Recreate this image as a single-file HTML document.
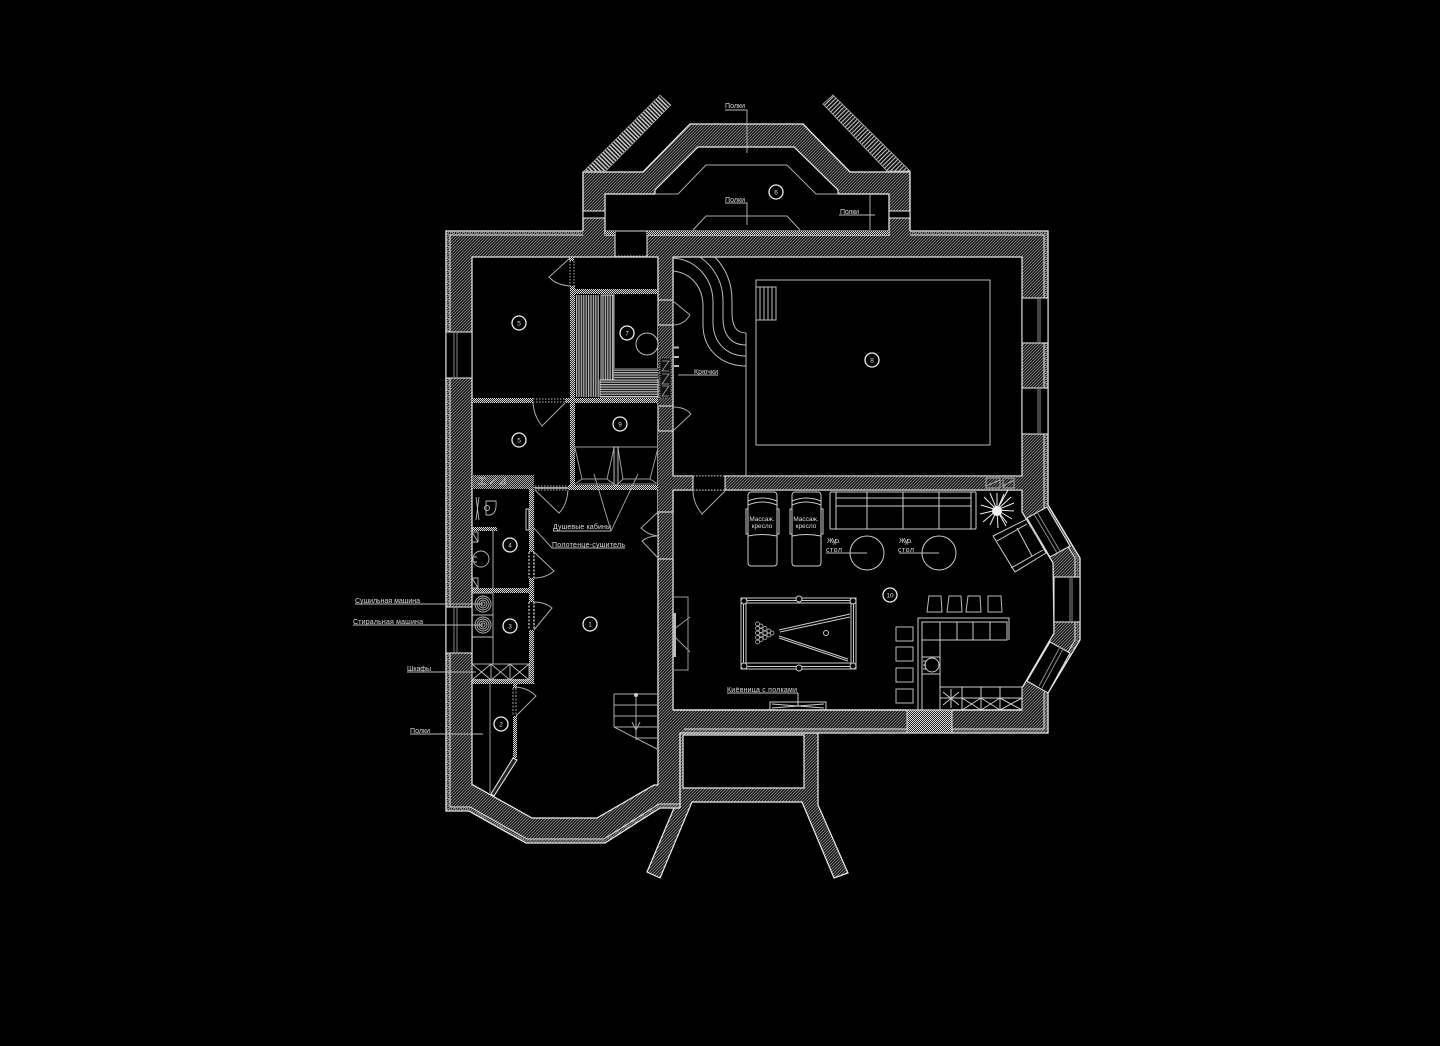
<!DOCTYPE html>
<html lang="ru"><head><meta charset="utf-8"><title>План этажа</title>
<style>html,body{margin:0;background:#000}svg{display:block}text{font-family:"Liberation Sans","DejaVu Sans",sans-serif;font-size:7px;fill:#ddd}.n{font-size:6.5px;text-anchor:middle}</style></head><body>
<svg width="1440" height="1046" viewBox="0 0 1440 1046" xmlns="http://www.w3.org/2000/svg">
<defs>
<pattern id="h" width="3" height="3" patternUnits="userSpaceOnUse"><rect width="3" height="3" fill="#0c0c0c"/><path d="M-1 1L1 -1M0 3L3 0M2 4L4 2" stroke="#8c8c8c" stroke-width=".85"/></pattern>
<pattern id="d" width="2" height="2" patternUnits="userSpaceOnUse"><rect width="2" height="2" fill="#222"/><rect width="1" height="1" fill="#ddd"/><rect x="1" y="1" width="1" height="1" fill="#ddd"/></pattern>
<pattern id="v" width="2.4" height="4" patternUnits="userSpaceOnUse"><rect width="2.4" height="4" fill="#111"/><rect width="1.2" height="4" fill="#bbb"/></pattern>
<pattern id="g" width="4" height="2.4" patternUnits="userSpaceOnUse"><rect width="4" height="2.4" fill="#111"/><rect width="4" height="1.2" fill="#bbb"/></pattern>
<pattern id="sl" width="3" height="3" patternUnits="userSpaceOnUse" patternTransform="rotate(-45)"><rect width="3" height="3" fill="#111"/><rect width="1.5" height="3" fill="#ccc"/></pattern>
<pattern id="sl2" width="3" height="3" patternUnits="userSpaceOnUse" patternTransform="rotate(-45)"><rect width="3" height="3" fill="#111"/><rect height="1" width="3" fill="#ccc"/></pattern>
</defs>
<rect width="1440" height="1046" fill="#000"/>

<!-- Hatched building mass -->
<polygon fill="url(#h)" points="446,231 583,231 583,172 643,172 690,124 803,124 850,172 910,172 910,231 1048,231 1048,505 1080,558 1080,640 1048,693 1048,733 818,733 818,805 848,873 834,878 802,802 692,802 660,878 647,872 674,808 660,808 605,843 526,843 469,811 446,811"/>

<!-- Outer lines -->
<g fill="none" stroke="#eee" stroke-width="1.3">
<polyline points="583,231 583,172 643,172 690,124 803,124 850,172 910,172 910,231"/>
<polyline points="583,231 446,231 446,811 469,811 526,843 605,843 660,808 680,808"/>
<polyline points="910,231 1048,231 1048,505 1080,558 1080,640 1048,693 1048,733 680,733 680,808"/>
<polyline stroke-width="1.2" points="674,808 647,872 660,878 692,802 802,802 834,878 848,873 818,805 818,733"/>
</g>
<g fill="none" stroke="#eee" stroke-width="1">
<polyline points="583,235 450,235 450,807 470,807 527,839 604,839 659,804 680,804"/>
<polyline points="910,235 1044,235 1044,507 1075,558 1075,640 1044,693 1044,729 684,729"/>
</g>
<g fill="none" stroke="#999" stroke-width="1.4" stroke-dasharray="1 1">
<polyline points="583,233 448,233 448,809 469.500,809 526.500,841 604.500,841 659.500,806 678,806"/>
<polyline points="910,233 1046,233 1046,506 1077.500,558 1077.500,640 1046,693 1046,731 682,731"/>
</g>

<!-- Porch interior -->
<rect x="683" y="735" width="121" height="53" fill="#000" stroke="#eee" stroke-width="1.2"/>

<!-- Rooms -->
<g fill="#000" stroke="#eee" stroke-width="1.2">
<polygon points="605,194 655,194 655,190 698,147 794,147 838,190 838,194 889,194 889,235 605,235"/>
<rect x="472" y="257" width="186" height="231"/>
<rect x="673" y="257" width="349" height="219"/>
<rect x="472" y="488" width="62" height="195"/>
<polygon points="534,488 658,488 658,785 654,785 597,818 532,818 473,785 472,785 472,683 534,683"/>
<polygon points="673,490 1022,490 1022,512 1053,563 1054,633 1022,688 1022,710 673,710"/>
<rect x="615" y="231" width="32" height="25" stroke="none"/>
</g>
<path d="M472 488H534M534 488V683M472 683H534" stroke="#000" stroke-width="1.4" fill="none"/>
<path d="M615 231V256M647 231V256" stroke="#eee" fill="none"/>
<path d="M615 231H647M615 256H647" stroke="#bbb" stroke-dasharray="1.500 1.500" fill="none"/>
<path d="M605 231H889" stroke="#ddd" stroke-width="1"/>
<rect x="605" y="231" width="10" height="4" fill="url(#d)"/><rect x="647" y="231" width="242" height="4" fill="url(#d)"/>

<!-- Room 6 shelves -->
<g fill="none" stroke="#aaa" stroke-width="1">
<polyline points="655,194 678,194 706,165 787,165 816,194 838,194"/>
<polyline points="693,230 706,216 787,216 800,230"/>
<line x1="870" y1="194" x2="870" y2="230"/>
</g>
<!-- Side windows room 6 -->
<g fill="#000" stroke="#eee"><rect x="583" y="211" width="22" height="7"/><rect x="889" y="211" width="21" height="7"/></g>
<!-- Angled shutters top -->
<polygon points="584,171 660,95 671,105 606,171" fill="url(#sl)" stroke="#aaa" stroke-width=".6"/>
<polygon points="823,104 833,95 910,171 887,171" fill="url(#sl2)" stroke="#bbb" stroke-width=".8"/>

<!-- Interior hatched wall 658-672 -->
<rect x="658" y="257" width="15" height="43" fill="url(#h)"/>
<rect x="658" y="325" width="15" height="81" fill="url(#h)"/>
<rect x="658" y="431" width="15" height="59" fill="url(#h)"/>
<rect x="658" y="490" width="15" height="22" fill="url(#h)"/>
<rect x="658" y="559" width="15" height="226" fill="url(#h)"/>
<rect x="658" y="476" width="35" height="14" fill="url(#h)"/>
<rect x="725" y="476" width="260" height="14" fill="url(#h)"/>
<rect x="985" y="476" width="37" height="14" fill="url(#h)"/>
<path d="M658 257V300H673V257M658 559V785M673 559V710M658 325H673V406H658M658 431H673V476H693V490H673V512H658M658 559H673M725 490V476M693 476H725M693 490H725" fill="none" stroke="#eee" stroke-width="1.1"/>
<path d="M725 476H1022M725 490H1022" stroke="#eee" stroke-width="1.1" fill="none"/>
<path d="M658 300V325M673 300V325M658 406V431M673 406V431M658 512V559M673 512V559" stroke="#bbb" stroke-dasharray="1.500 1.500" fill="none"/>
<rect x="693.500" y="475.500" width="31" height="15" fill="#000"/>
<path d="M693 476V490M725 476V490" stroke="#eee" fill="none"/>
<path d="M693 476H725M693 490H725" stroke="#bbb" stroke-dasharray="1.500 1.500" fill="none"/>

<!-- Partitions -->
<rect x="570" y="286" width="5" height="204" fill="url(#d)"/>
<rect x="570" y="289" width="88" height="5" fill="url(#d)"/>
<rect x="472" y="398" width="61" height="5" fill="url(#d)"/>
<rect x="565" y="398" width="93" height="5" fill="url(#d)"/>
<rect x="568" y="485" width="90" height="5" fill="url(#d)"/>
<rect x="569" y="257" width="5" height="4" fill="url(#d)"/>
<path d="M570 261V286M574 261V286M533 399H565M533 402H565M535 486H568M535 490H568" stroke="#bbb" stroke-dasharray="1.500 1.500" fill="none"/>
<rect x="472" y="475" width="62" height="14" fill="url(#d)" opacity=".8"/>
<rect x="529" y="489" width="5" height="63" fill="url(#d)"/>
<rect x="529" y="578" width="5" height="24" fill="url(#d)"/>
<rect x="529" y="630" width="5" height="53" fill="url(#d)"/>
<rect x="472" y="588" width="58" height="5" fill="url(#d)"/>
<rect x="472" y="679" width="62" height="5" fill="url(#d)"/>
<path d="M529 552V578M534 552V578M529 602V630M534 602V630" stroke="#aaa" stroke-width="1.500" stroke-dasharray="2 1.500" fill="none"/>
<rect x="472" y="527" width="25" height="4" fill="url(#d)"/>
<rect x="513" y="716" width="4" height="42" fill="url(#d)"/>
<rect x="513" y="684" width="4" height="4" fill="url(#d)"/>
<path d="M513 688V716M516 688V716" stroke="#aaa" stroke-dasharray="2 1.500" fill="none"/>
<polygon points="513,758 517,760 494,796 491,794" fill="#222" stroke="#eee"/>
<line x1="490" y1="684" x2="490" y2="793" stroke="#999"/>
<path d="M472 488V785" stroke="#eee" fill="none"/>

<!-- Sauna -->
<rect x="575" y="295" width="24" height="102" fill="url(#v)"/>
<rect x="601" y="295" width="13" height="85" fill="url(#v)" stroke="#eee" stroke-width=".8"/>
<rect x="614" y="368" width="44" height="11" fill="url(#g)"/>
<rect x="600" y="380" width="58" height="17" fill="url(#g)" stroke="#eee" stroke-width=".8"/>
<circle cx="647" cy="344" r="11" fill="none" stroke="#bbb"/>
<rect x="660" y="358" width="11" height="40" fill="#111" stroke="#888" stroke-dasharray="1 1"/>
<path d="M662 361H669L662 371H669M662 374H669L662 384H669M662 386H669L662 396H669" fill="none" stroke="#aaa" stroke-width=".8"/>
<path d="M674 347.500H679M674 357H679M674 366H679" stroke="#bbb" stroke-width="2"/>

<!-- Showers -->
<g fill="none" stroke="#999" stroke-width="1">
<line x1="575" y1="447" x2="658" y2="447"/>
<polyline points="575,448 582,479 575,484"/><polyline points="614,448 607,479 614,484"/>
<polyline points="618,448 623,479 618,484"/><polyline points="658,448 650,479 658,484"/>
<path d="M582 479H607M577 484H613M623 479H650M620 484H656"/>
<line x1="594" y1="474" x2="611" y2="531"/><line x1="638" y1="474" x2="611" y2="531"/>
</g>
<rect x="614" y="447" width="4" height="38" fill="#111" stroke="#ddd" stroke-width=".8"/>

<!-- Bath / laundry fittings -->
<g fill="none" stroke="#bbb" stroke-width=".9">
<path d="M486 501H496Q497 514 490 515H486Z"/><circle cx="487" cy="508" r="2.500"/>
<path d="M476 497L479 520M479 497L476 520"/>
<circle cx="481" cy="559" r="8"/>
<path d="M472 532H478V542H472M472 532L478 542M472 578H478V588H472M472 578L478 588M474 557H477M474 562H477"/>
<path d="M493 531V588M472 593H493M493 593V664M472 615H493M472 637H493"/>
<rect x="472" y="664" width="57" height="16"/>
<path d="M472 664L491 680M491 664L472 680M491 664L510 680M510 664L491 680M510 664L529 680M529 664L510 680M491 664V680M510 664V680"/>
<circle cx="483" cy="604" r="8"/><circle cx="483" cy="604" r="6"/><circle cx="483" cy="604" r="4"/><circle cx="483" cy="604" r="2"/>
<circle cx="483" cy="625" r="8"/><circle cx="483" cy="625" r="6"/><circle cx="483" cy="625" r="4"/><circle cx="483" cy="625" r="2"/>
<rect x="526" y="509" width="3" height="21" stroke="#ddd"/>
<polyline points="533,527 552,548 625,548"/>
<path d="M478 478H486M478 484H486M482 478V484M490 484L497 478M500 484L505 478V484Z"/>
</g>

<!-- Doors -->
<g fill="none" stroke="#aaa" stroke-width="1">
<path d="M570 258L549 277Q556 285 570 286"/>
<path d="M565 403L542 426Q534 416 533 403"/>
<path d="M673 301L690 315Q684 325 673 325"/>
<path d="M673 407Q685 407 691 414L673 431"/>
<path d="M568 490Q567 505 559 513L535 490"/>
<path d="M534 552L554 571Q546 578 534 578"/>
<path d="M534 602Q545 602 552 608L534 630"/>
<path d="M516 687Q528 688 536 696L516 716"/>
<path d="M725 491L702 514Q693 503 693 491"/>
<path d="M658 512L641 528Q648 535 658 536Q648 536 642 541L658 558"/>
</g>

<!-- Pool and curves -->
<g fill="none" stroke="#bbb" stroke-width="1">
<rect x="756" y="280" width="234" height="165"/>
<rect x="756" y="287" width="20" height="33"/>
<path d="M760 287V320M764 287V320M768 287V320M772 287V320"/>
<line x1="746" y1="333" x2="746" y2="476"/>
<path d="M715 257C727 270 732 285 732 300V312C732 326 736 333 746 333"/>
<path d="M700 257C716 268 723 285 723 300V318C723 336 732 345 746 345"/>
<path d="M673 258C698 260 713 280 713 302V322C713 344 728 356 746 356"/>
<path d="M673 271C692 273 703 288 703 306V325C703 350 722 366 746 366"/>
</g>

<!-- Windows -->
<g fill="#000" stroke="#ddd" stroke-width="1.1">
<rect x="446" y="332" width="26" height="46"/><rect x="446" y="607" width="26" height="46"/>
<rect x="1022" y="298" width="26" height="45"/><rect x="1022" y="388" width="26" height="46"/>
<rect x="1054" y="577" width="26" height="45"/>
<polygon points="1027,518 1047,507 1070,546 1050,557"/>
<polygon points="1050,642 1070,653 1048,693 1027,681"/>
</g>
<g stroke="#888" stroke-width="1" fill="none">
<path d="M454 332V378M457 332V378M454 607V653M457 607V653M1038 298V343M1040 298V343M1038 388V434M1040 388V434M1070 577V622M1072 577V622"/>
<path d="M1034 514L1057 553M1037 512L1060 551M1060 647L1039 686M1063 649L1042 688"/>
</g>

<!-- Massage chairs -->
<g fill="none" stroke="#ccc" stroke-width="1">
<rect x="748" y="492" width="29" height="74" rx="3"/><rect x="792" y="492" width="29" height="74" rx="3"/>
<path d="M748 501Q762 495 777 501M748 505Q762 499 777 505M748 536Q762 533 777 536"/>
<path d="M792 501Q806 495 821 501M792 505Q806 499 821 505M792 536Q806 533 821 536"/>
<path d="M748 509H746V534H748M777 509H779V534H777M792 509H790V534H792M821 509H823V534H821"/>
<!-- Sofa -->
<rect x="830" y="492" width="146" height="37" rx="1"/>
<path d="M836 492V529M971 492V529M836 498H971M836 506H971M867 492V529M903 492V529M939 492V529"/>
<circle cx="867" cy="553" r="17"/><circle cx="939" cy="553" r="17"/>
<!-- Armchair -->
<polygon points="993,536 1027,519 1046,553 1015,572"/>
<path d="M997 541L1027,524M1011 568L1043 550M1017 528L1032 556M1028 521L1040 540"/>
<!-- Billiards -->
<rect x="741" y="598" width="115" height="71"/><rect x="743.500" y="600.500" width="110" height="66"/><rect x="746" y="603" width="105" height="60"/>
<circle cx="744" cy="601" r="3" fill="#000"/><circle cx="853" cy="601" r="3" fill="#000"/><circle cx="744" cy="666" r="3" fill="#000"/><circle cx="853" cy="666" r="3" fill="#000"/><circle cx="799" cy="599" r="3" fill="#000"/><circle cx="799" cy="668" r="3" fill="#000"/>
<path d="M779 630L850 614M780 632L850 617M779 636L848 659M779 638L848 661"/>
<circle cx="826" cy="633" r="2.500"/>
<g stroke-width=".7"><circle cx="757.500" cy="624" r="2"/><circle cx="757.500" cy="628.500" r="2"/><circle cx="757.500" cy="633" r="2"/><circle cx="757.500" cy="637.500" r="2"/><circle cx="757.500" cy="642" r="2"/><circle cx="761" cy="626" r="2"/><circle cx="761" cy="630.500" r="2"/><circle cx="761" cy="635" r="2"/><circle cx="761" cy="639.500" r="2"/><circle cx="765" cy="628.500" r="2"/><circle cx="765" cy="633" r="2"/><circle cx="765" cy="637.500" r="2"/><circle cx="769" cy="631" r="2"/><circle cx="769" cy="635" r="2"/><circle cx="772" cy="633" r="2"/></g>
<!-- Left fireplace -->
<polyline stroke="#999" points="673,597 688,597 688,670 673,670"/>
<path stroke="#999" d="M673 630L690 617M673 635L690 652"/>
<rect x="673" y="613" width="3" height="44" fill="#bbb" stroke="none"/>
<!-- Cue rack -->
<rect x="770" y="702" width="56" height="8"/><path d="M772 704L824 708M772 708L824 704M798 693V706"/>
<!-- Stairs -->
<path stroke="#aaa" d="M614 694H657M614 705H657M614 716H657M614 727H657M636 738H657M614 694V727M614 727L657 749M636 694V740M632 722L636 730L640 722"/>
<circle cx="636" cy="695" r="1.500" fill="#ccc"/>
<!-- Bar -->
<path d="M918 710V618H1009V640M922 710V622"/>
<rect x="922" y="622" width="85" height="18"/>
<path d="M940 622V710M957 622V640M973 622V640M990 622V640M922 657H940M922 674H940"/>
<circle cx="932" cy="665" r="7"/><path d="M923 661H926M923 665H926M923 669H926"/>
<rect x="940" y="687" width="82" height="23"/>
<path d="M940 698H1022M962 687V710M981 687V710M1000 687V710M962 698L981 710M981 698L962 710M981 698L1000 710M1000 698L981 710M1000 698L1022 710M1022 698L1000 710M951 689V708M943 692L959 705M959 692L943 705M941 698H961"/>
<g stroke="#bbb"><polygon points="929,596 941,596 942,612 927,612"/><polygon points="949,596 961,596 962,612 947,612"/><polygon points="968,596 980,596 981,612 966,612"/><polygon points="988,596 1001,596 1002,612 988,612"/>
<rect x="896" y="627" width="17" height="14"/><rect x="896" y="647" width="17" height="14"/><rect x="896" y="668" width="17" height="14"/><rect x="896" y="689" width="17" height="14"/></g>
<!-- Corner cabinet -->
<path stroke="#aaa" d="M986 478H1000V488H986ZM1003 478H1014V488H1003ZM986 486L1000 480M1003 486L1014 480"/>
</g>
<rect x="907" y="710" width="45" height="23" fill="url(#d)" stroke="#ddd"/>
<path d="M673 710H907M952 710H1022" stroke="#eee" stroke-width="1.200"/>
<!-- Plant -->
<g stroke="#eee" stroke-width="1"><path d="M997 510L997 493M997 510L1004 494M997 510L1011 497M997 510L1014 503M997 510L1014 511M997 510L1012 519M997 510L1006 526M997 510L998 528M997 510L990 525M997 510L983 522M997 510L980 514M997 510L981 505M997 510L984 497M997 510L990 493M997 510L1008 490M997 510L1007 523"/><circle cx="997" cy="511" r="5" fill="#eee" stroke="none"/></g>

<!-- Leaders -->
<g fill="none" stroke="#bbb" stroke-width=".9">
<polyline points="725,110 747,110 747,153"/><polyline points="725,203 747,203 747,225"/>
<polyline points="839,215 875,215"/>
<polyline points="694,375 678,375"/><line x1="694" y1="375" x2="718" y2="375"/>
<line x1="553" y1="531" x2="611" y2="531"/>
<line x1="355" y1="604" x2="483" y2="604"/><line x1="353" y1="625" x2="483" y2="625"/>
<line x1="407" y1="672" x2="476" y2="672"/><line x1="410" y1="734" x2="483" y2="734"/>
<polyline points="727,693 798,693"/><line x1="826" y1="553" x2="867" y2="553"/><line x1="899" y1="553" x2="939" y2="553"/>
</g>

<!-- Labels -->
<text x="725" y="108" textLength="20">Полки</text>
<text x="725" y="202" textLength="20">Полки</text>
<text x="840" y="214" textLength="19">Полки</text>
<text x="694" y="374" textLength="24">Крючки</text>
<text x="553" y="529" textLength="58">Душевые кабины</text>
<text x="552" y="547" textLength="73">Полотенце-сушитель</text>
<text x="355" y="603" textLength="65">Сушильная машина</text>
<text x="353" y="624" textLength="70">Стиральная машина</text>
<text x="407" y="671" textLength="24">Шкафы</text>
<text x="410" y="733" textLength="20">Полки</text>
<text x="727" y="692" textLength="70">Киёвница с полками</text>
<text x="827" y="543" textLength="13">Жур.</text><text x="826" y="552" textLength="16">стол</text>
<text x="899" y="543" textLength="13">Жур.</text><text x="898" y="552" textLength="16">стол</text>
<text class="n" x="762" y="521">Массаж.</text><text class="n" x="762" y="528">кресло</text>
<text class="n" x="806" y="521">Массаж.</text><text class="n" x="806" y="528">кресло</text>

<!-- Room numbers -->
<g fill="#000" stroke="#eee" stroke-width="1.300">
<circle cx="776" cy="192" r="7"/><circle cx="519" cy="323" r="7"/><circle cx="519" cy="440" r="7"/><circle cx="627" cy="333" r="7"/><circle cx="620" cy="424" r="7"/><circle cx="872" cy="360" r="7"/><circle cx="510" cy="545" r="7"/><circle cx="510" cy="626" r="7"/><circle cx="590" cy="624" r="7"/><circle cx="501" cy="724" r="7"/><circle cx="890" cy="595" r="7"/>
</g>
<g>
<text class="n" x="776" y="194.500">6</text><text class="n" x="519" y="325.500">5</text><text class="n" x="519" y="442.500">5</text><text class="n" x="627" y="335.500">7</text><text class="n" x="620" y="426.500">9</text><text class="n" x="872" y="362.500">8</text><text class="n" x="510" y="547.500">4</text><text class="n" x="510" y="628.500">3</text><text class="n" x="590" y="626.500">1</text><text class="n" x="501" y="726.500">2</text><text class="n" x="890" y="597.500">10</text>
</g>
</svg>
</body></html>
